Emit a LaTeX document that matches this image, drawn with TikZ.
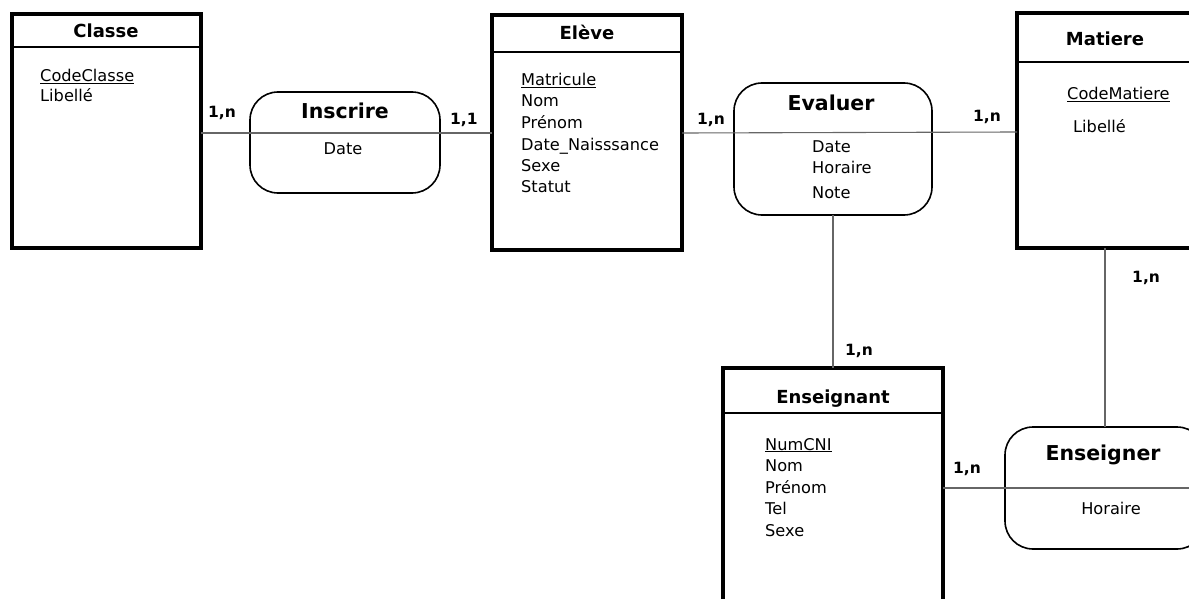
\documentclass[tikz,border=0pt]{standalone}
\usepackage{fontspec}
\setmainfont{DejaVu Sans}
\usetikzlibrary{calc}
\begin{document}
\begin{tikzpicture}[x=1pt,y=-1pt,
  entity/.style={draw, line width=3.2pt, anchor=north west, inner sep=0pt, outer sep=0pt},
  assoc/.style={draw, line width=1.6pt, rounded corners=28pt, anchor=north west, inner sep=0pt, outer sep=0pt},
  headline/.style={line width=1.4pt},
  conn/.style={line width=1.1pt, draw=black!60},
  etitle/.style={font=\fontsize{18}{21}\selectfont\bfseries, anchor=base, inner sep=0pt},
  atitle/.style={font=\fontsize{20.5}{24}\selectfont\bfseries, anchor=base, inner sep=0pt},
  attrs/.style={font=\fontsize{16.2}{21.5}\selectfont, align=left, anchor=base west, inner sep=0pt},
  attr/.style={font=\fontsize{16.2}{21.5}\selectfont, inner sep=0pt},
  card/.style={font=\fontsize{15.5}{18}\selectfont\bfseries, anchor=base west, inner sep=0pt},
]
\useasboundingbox (0,0) rectangle (1189,599);
\clip (0,0) rectangle (1189,599);

% ---------- entities ----------
\node[entity, minimum width=189pt, minimum height=234pt] (classe) at (12,14) {};
\node[entity, minimum width=190pt, minimum height=235pt] (eleve) at (492,15) {};
\node[entity, minimum width=200pt, minimum height=235pt] (matiere) at (1017,13) {};
\node[entity, minimum width=220pt, minimum height=260pt] (enseignant) at (723,368) {};

% header separators
\draw[headline] ($(classe.north west)+(0,33)$) -- ($(classe.north east)+(0,33)$);
\draw[headline] ($(eleve.north west)+(0,37)$) -- ($(eleve.north east)+(0,37)$);
\draw[headline] ($(matiere.north west)+(0,49)$) -- ($(matiere.north east)+(0,49)$);
\draw[headline] ($(enseignant.north west)+(0,45)$) -- ($(enseignant.north east)+(0,45)$);

% ---------- associations ----------
\node[assoc, minimum width=190pt, minimum height=101pt] (inscrire) at (250,92) {};
\node[assoc, minimum width=198pt, minimum height=132pt] (evaluer) at (734,83) {};
\node[assoc, minimum width=200pt, minimum height=122pt] (enseigner) at (1005,427) {};

% ---------- connectors ----------
\draw[conn] ([yshift=-2pt]classe.east) -- ([yshift=-0.5pt]eleve.west);
\draw[conn] ([yshift=-0.5pt]eleve.east) -- ([yshift=-1.5pt]matiere.west);
\draw[conn] (evaluer.south) -- (evaluer.south |- enseignant.north);
\draw[conn] (enseigner.north) -- (enseigner.north |- matiere.south);
\draw[conn] (enseignant.east |- enseigner.west) -- (enseigner.east);

% ---------- titles ----------
\node[etitle] (tclasse) at (106,38) {Classe};
\node[etitle] (televe) at (587,40) {Elève};
\node[etitle] (tmatiere) at (1105,46) {Matiere};
\node[etitle] (tenseignant) at (833,403) {Enseignant};
\node[atitle] (tinscrire) at (345,119) {Inscrire};
\node[atitle] (tevaluer) at (831,111) {Evaluer};
\node[atitle] (tenseigner) at (1103,460) {Enseigner};

% ---------- attributes (multi-line nodes sit on their last baseline) ----------
\node[attrs, font=\fontsize{16.2}{20}\selectfont] (aclasse) at (40,102) {\underline{CodeClasse}\\Libellé};
\node[attrs] (aeleve) at (521,193) {\underline{Matricule}\\Nom\\Prénom\\Date\_Naisssance\\Sexe\\Statut};
\node[attrs] (amatiere1) at (1067,100) {\underline{CodeMatiere}};
\node[attrs] (amatiere2) at (1073,133) {Libellé};
\node[attrs] (aenseignant) at (765,536) {\underline{NumCNI}\\Nom\\Prénom\\Tel\\Sexe};
\node[attr, anchor=base] (ainscrire) at (343,155) {Date};
\node[attrs, font=\fontsize{16.2}{21}\selectfont] (aevaluer) at (812,198) {Date\\Horaire\\[4pt]Note};
\node[attr, anchor=base] (aenseigner) at (1111,514) {Horaire};

% ---------- cardinalities ----------
\node[card] (c1) at (208,118) {1,n};
\node[card] (c2) at (450,125) {1,1};
\node[card] (c3) at (697,125) {1,n};
\node[card] (c4) at (973,122) {1,n};
\node[card] (c5) at (845,355) {1,n};
\node[card] (c6) at (1132,282) {1,n};
\node[card] (c7) at (953,473) {1,n};
\end{tikzpicture}
\end{document}
